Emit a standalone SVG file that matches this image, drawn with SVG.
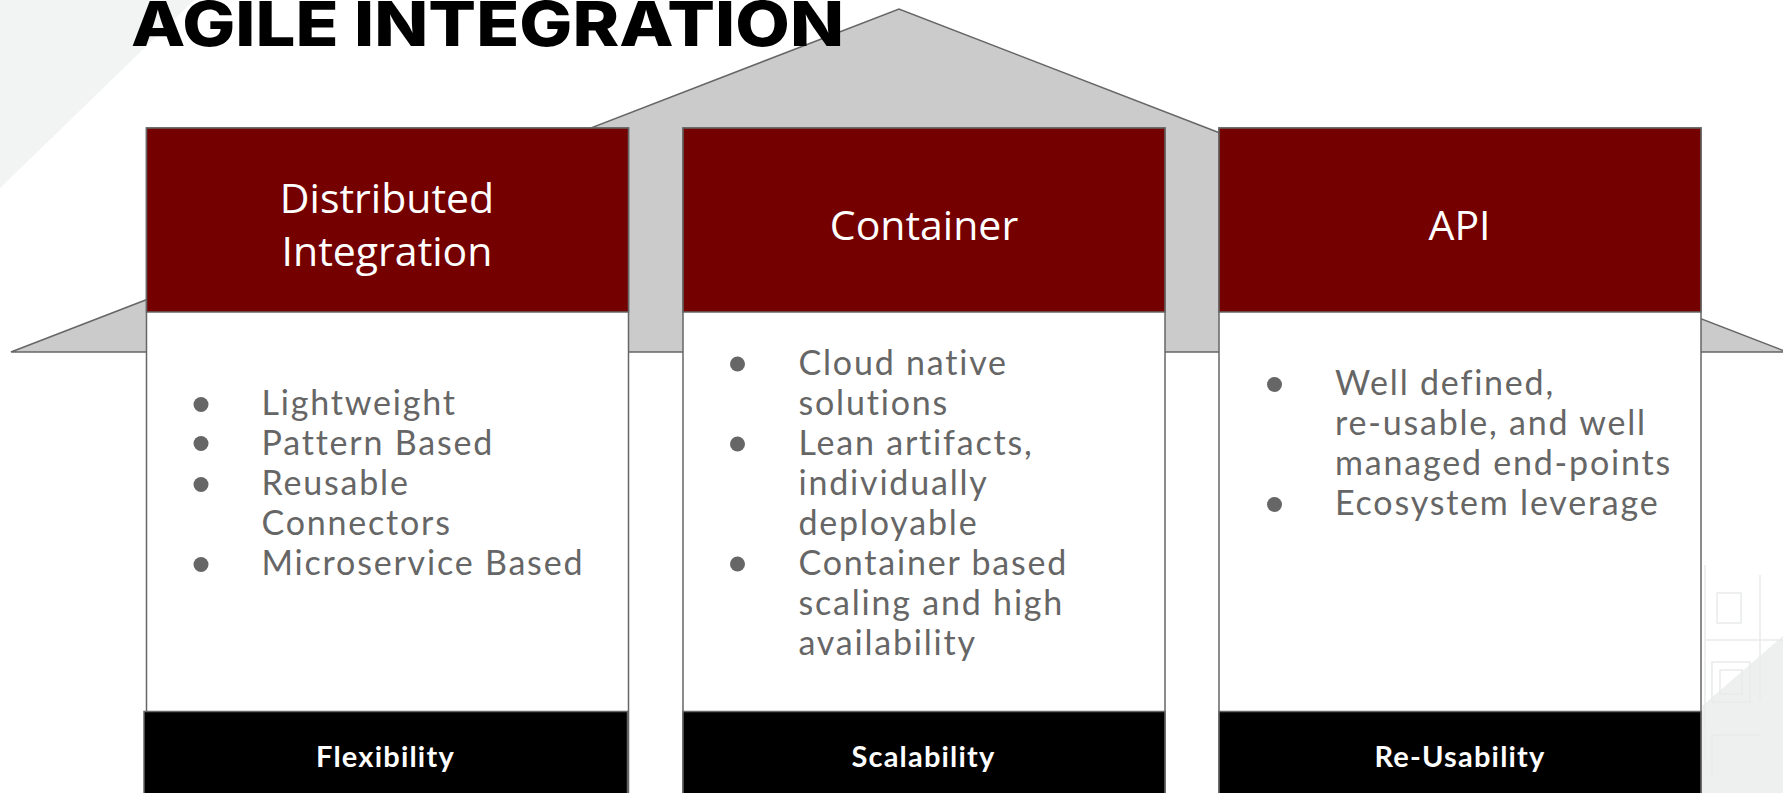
<svg xmlns="http://www.w3.org/2000/svg" width="1783" height="793" viewBox="0 0 1783 793">
<style>
.bg{fill:#f2f3f3}
.deco{fill:none;stroke:#e9eaea;stroke-width:1.5}
.roof{fill:#cbcbcb;stroke:#666666;stroke-width:1.5}
.body{fill:#ffffff;stroke:#666666;stroke-width:1.5}
.head{fill:#750000;stroke:#666666;stroke-width:1.5}
.foot{fill:#000000;stroke:#666666;stroke-width:1.5}
.title{font-family:Inter,"Liberation Sans",Arial,sans-serif;font-weight:800;font-size:62px;fill:#000000}
.htxt{font-family:"Open Sans","Liberation Sans",sans-serif;font-size:41px;fill:#ffffff;text-anchor:middle}
.btxt{font-family:Lato,"Liberation Sans",sans-serif;font-size:34px;letter-spacing:1.8px;fill:#666666}
.bul{fill:#666666}
.ftxt{font-family:Lato,"Liberation Sans",sans-serif;font-weight:700;font-size:29px;letter-spacing:1.2px;fill:#ffffff;text-anchor:middle}
</style>
<rect x="0" y="0" width="1783" height="793" fill="#ffffff"/>
<g id="background">
<polygon class="bg" points="0,0 194,0 0,188"/>
<polygon points="1702,706 1783,636 1783,793 1702,793" fill="#eeefef"/>
<rect class="deco" x="1712" y="662" width="38" height="40"/>
<rect class="deco" x="1720" y="670" width="22" height="24"/>
<rect class="deco" x="1717" y="593" width="24" height="30"/>
<path class="deco" d="M1705,640 H1783 M1705,565 V760 M1760,575 V700 M1712,735 H1760 M1712,735 V775"/>
</g>
<g id="roof">
<polygon class="roof" points="11,352 899,9 1787,352"/>
</g>
<g id="title">
<text class="title" x="131" y="46" textLength="713" lengthAdjust="spacingAndGlyphs">AGILE INTEGRATION</text>
</g>
<g id="connectors"></g>
<g id="pillar-distributed-integration">
<rect class="body" x="146.5" y="128" width="482" height="680"/>
<rect class="head" x="146.5" y="128" width="482" height="184"/>
<rect class="foot" x="144" y="711.5" width="483.5" height="90"/>
<text class="htxt" x="387" y="213">Distributed</text>
<text class="htxt" x="387" y="266">Integration</text>
<circle class="bul" cx="201" cy="404.5" r="7.5"/>
<circle class="bul" cx="201" cy="443.5" r="7.5"/>
<circle class="bul" cx="201" cy="484.5" r="7.5"/>
<circle class="bul" cx="201" cy="564.5" r="7.5"/>
<text class="btxt" x="261.5" y="415">Lightweight</text>
<text class="btxt" x="261.5" y="455">Pattern Based</text>
<text class="btxt" x="261.5" y="495">Reusable</text>
<text class="btxt" x="261.5" y="535">Connectors</text>
<text class="btxt" x="261.5" y="575">Microservice Based</text>
<text class="ftxt" x="385.5" y="767">Flexibility</text>
</g>
<g id="pillar-container">
<rect class="body" x="683" y="128" width="482" height="680"/>
<rect class="head" x="683" y="128" width="482" height="184"/>
<rect class="foot" x="683" y="711.5" width="482" height="90"/>
<text class="htxt" x="924" y="239.5">Container</text>
<circle class="bul" cx="737.5" cy="364" r="7.5"/>
<circle class="bul" cx="737.5" cy="444" r="7.5"/>
<circle class="bul" cx="737.5" cy="564" r="7.5"/>
<text class="btxt" x="798.5" y="374.5">Cloud native</text>
<text class="btxt" x="798.5" y="414.5">solutions</text>
<text class="btxt" x="798.5" y="454.5">Lean artifacts,</text>
<text class="btxt" x="798.5" y="494.5">individually</text>
<text class="btxt" x="798.5" y="534.5">deployable</text>
<text class="btxt" x="798.5" y="574.5">Container based</text>
<text class="btxt" x="798.5" y="614.5">scaling and high</text>
<text class="btxt" x="798.5" y="654.5">availability</text>
<text class="ftxt" x="923.5" y="767">Scalability</text>
</g>
<g id="pillar-api">
<rect class="body" x="1219" y="128" width="482" height="680"/>
<rect class="head" x="1219" y="128" width="482" height="184"/>
<rect class="foot" x="1219" y="711.5" width="482" height="90"/>
<text class="htxt" x="1459.5" y="239.5">API</text>
<circle class="bul" cx="1274.5" cy="384.5" r="7.5"/>
<circle class="bul" cx="1274.5" cy="504.5" r="7.5"/>
<text class="btxt" x="1335" y="395">Well defined,</text>
<text class="btxt" x="1335" y="435">re-usable, and well</text>
<text class="btxt" x="1335" y="475">managed end-points</text>
<text class="btxt" x="1335" y="515">Ecosystem leverage</text>
<text class="ftxt" x="1460" y="767">Re-Usability</text>
</g>
</svg>
